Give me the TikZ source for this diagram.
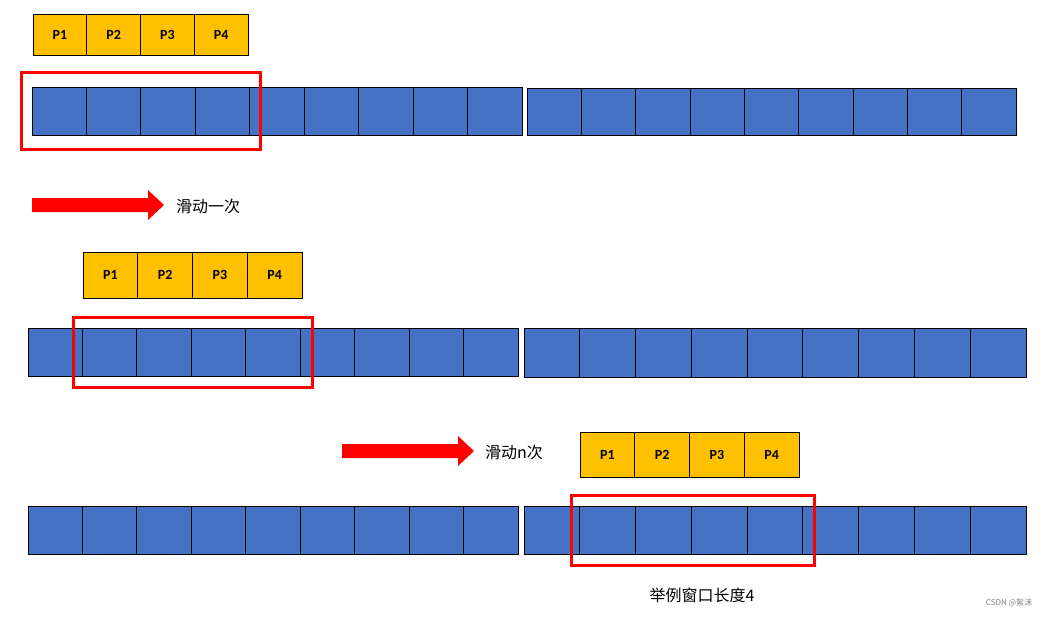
\documentclass[tikz,border=0pt]{standalone}
\usepackage{fontspec}
\setmainfont{Carlito}
\newfontfamily\cjk{Noto Sans CJK SC}
\begin{document}
\begin{tikzpicture}[x=1pt,y=-1pt,
  bcell/.style={draw=black,fill=blue!0!white,line width=0.8pt},
  redbox/.style={draw=red,line width=3pt},
  lbl/.style={font=\cjk\fontsize{16}{18}\selectfont,anchor=west,inner sep=0},
  bigarrow/.style={fill=red,draw=none}]
\definecolor{cb}{HTML}{4472C4}
\definecolor{cy}{HTML}{FFC000}
\useasboundingbox (0,0) rectangle (1058,618);
% blue row macro
\newcommand{\bluerow}[5]{% x0 x1 y0 y1 n
  \foreach \i in {1,...,#5}{
    \pgfmathsetmacro{\w}{(#2-#1)/#5}
    \filldraw[fill=cb,draw=black,line width=0.8pt] ({#1+(\i-1)*\w},#3) rectangle ({#1+\i*\w},#4);
  }}
\newcommand{\yrow}[4]{% x0 y0 y1 w
  \foreach \i in {1,...,4}{
    \filldraw[fill=cy,draw=black,line width=0.8pt] ({#1+(\i-1)*#4},#2) rectangle ({#1+\i*#4},#3);
    \node[font=\bfseries\fontsize{14}{16}\selectfont] at ({#1+(\i-0.5)*#4},{(#2+#3)/2}) {P\i};
  }}
\yrow{33}{14}{55}{53.75}
\bluerow{32}{522}{87}{135}{9}
\bluerow{527}{1016}{88}{135}{9}
\draw[redbox] (21,73) rectangle (260,149);
\fill[red] (32,198) -- (148,198) -- (148,190) -- (164,205) -- (148,220) -- (148,212) -- (32,212) -- cycle;
\node[lbl] (t1) at (176,206) {滑动一次};
\yrow{83}{252}{298}{54.75}
\bluerow{28}{518}{328}{376}{9}
\bluerow{524}{1026}{328}{377}{9}
\draw[redbox] (73,317) rectangle (312,387);
\fill[red] (342,444) -- (458,444) -- (458,436) -- (474,451) -- (458,466) -- (458,458) -- (342,458) -- cycle;
\node[lbl] (t2) at (485,452) {滑动n次};
\yrow{580}{432}{477}{54.75}
\bluerow{28}{518}{506}{554}{9}
\bluerow{524}{1026}{506}{554}{9}
\draw[redbox] (571,495) rectangle (814,565);
\node[lbl,anchor=center] (t3) at (702,595) {举例窗口长度4};
\node[font=\cjk\fontsize{8}{9}\selectfont,text=gray] (wm) at (1009,603) {CSDN @絮沫};
\end{tikzpicture}
\end{document}
